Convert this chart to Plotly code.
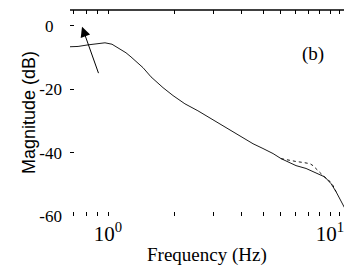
import math
import plotly.graph_objects as go

# Main magnitude response (Hz, dB)
freq_a = [0.674, 0.733, 0.813, 0.901, 0.969, 1.042, 1.086, 1.205, 1.269, 1.438,
          1.562, 1.769, 1.963, 2.22, 2.54, 2.91, 3.30, 3.85, 4.50, 4.99,
          5.54, 6.02, 7.03, 7.80, 8.38, 9.02, 9.49, 9.80, 10.11, 10.64,
          11.21, 11.45, 11.81, 12.31, 12.6, 13.5]
mag_a = [-6.6, -6.5, -6.0, -5.7, -5.35, -5.8, -6.5, -8.5, -9.8, -13.2,
         -16.1, -19.5, -22.0, -24.6, -26.8, -29.3, -31.5, -34.6, -37.2, -38.7,
         -40.3, -41.9, -44.1, -45.0, -46.0, -47.2, -47.7, -48.8, -49.8, -52.3,
         -55.1, -56.7, -58.3, -59.8, -59.9, -59.9]

# Second (slightly higher) response near the high-frequency roll-off
freq_b = [6.02, 6.61, 7.03, 7.56, 8.13, 8.38, 8.83, 9.11, 9.60, 10.0, 10.32, 10.64]
mag_b = [-41.9, -42.5, -42.8, -43.1, -43.5, -44.1, -45.7, -46.6, -48.2, -49.1, -50.4, -52.3]

# Arrow annotation (tip, tail) in Hz / dB
arrow_tip = (0.764, -0.3)
arrow_tail = (0.911, -15.4)

x_tickvals = [0.7, 0.8, 0.9, 1, 2, 3, 4, 5, 6, 7, 8, 9, 10, 11, 12, 13]
x_ticktext = ["", "", "", "10<sup>0</sup>", "", "", "", "", "", "", "", "", "10<sup>1</sup>", "", "", ""]
y_tickvals = [-60, -40, -20, 0]
y_ticktext = ["-60", "-40", "-20", "0\u2002"]

serif = "Liberation Serif"
sans = "Liberation Sans"

fig = go.Figure()
fig.add_trace(go.Scatter(x=freq_a, y=mag_a, mode="lines",
                         line=dict(color="black", width=0.9), showlegend=False))
fig.add_trace(go.Scatter(x=freq_b, y=mag_b, mode="lines",
                         line=dict(color="black", width=0.9, dash="dot"), showlegend=False))

fig.add_annotation(x=math.log10(arrow_tip[0]), y=arrow_tip[1],
                   ax=math.log10(arrow_tail[0]), ay=arrow_tail[1],
                   xref="x", yref="y", axref="x", ayref="y",
                   text="", showarrow=True, arrowhead=2, arrowsize=2,
                   arrowwidth=1, arrowcolor="black", standoff=0)

fig.add_annotation(x=0.886, y=0.85, xref="paper", yref="paper", text="(b)",
                   showarrow=False, font=dict(family=serif, size=19, color="black"))
fig.add_annotation(x=0.475, y=-0.25, xref="paper", yref="paper", text="Frequency (Hz)",
                   showarrow=False, font=dict(family=serif, size=19, color="black"))
fig.add_annotation(x=-0.183, y=0.5, xref="paper", yref="paper", text="Magnitude (dB)",
                   textangle=-90, showarrow=False,
                   font=dict(family=sans, size=18, color="black"))

fig.add_shape(type="line", xref="paper", yref="paper", x0=0, x1=1.01, y0=1, y1=1,
              line=dict(color="black", width=1.5))

fig.update_xaxes(type="log", range=[-0.1712, 1.1306], tickvals=x_tickvals,
                 ticktext=x_ticktext, ticks="inside", ticklen=4, tickcolor="black",
                 mirror="ticks", showline=False, showgrid=False, zeroline=False,
                 ticklabelstandoff=3,
                 tickfont=dict(family=serif, size=21, color="black"))
fig.update_yaxes(range=[-60, 5], tickvals=y_tickvals, ticktext=y_ticktext,
                 ticks="inside", ticklen=4, tickcolor="black", mirror="ticks",
                 showline=False, showgrid=False, zeroline=False,
                 ticklabelstandoff=7,
                 tickfont=dict(family=serif, size=17, color="black"))

fig.update_layout(width=352, height=272, margin=dict(l=62, r=1, t=2, b=64),
                  paper_bgcolor="white", plot_bgcolor="white")

fig.write_html("out.html")
